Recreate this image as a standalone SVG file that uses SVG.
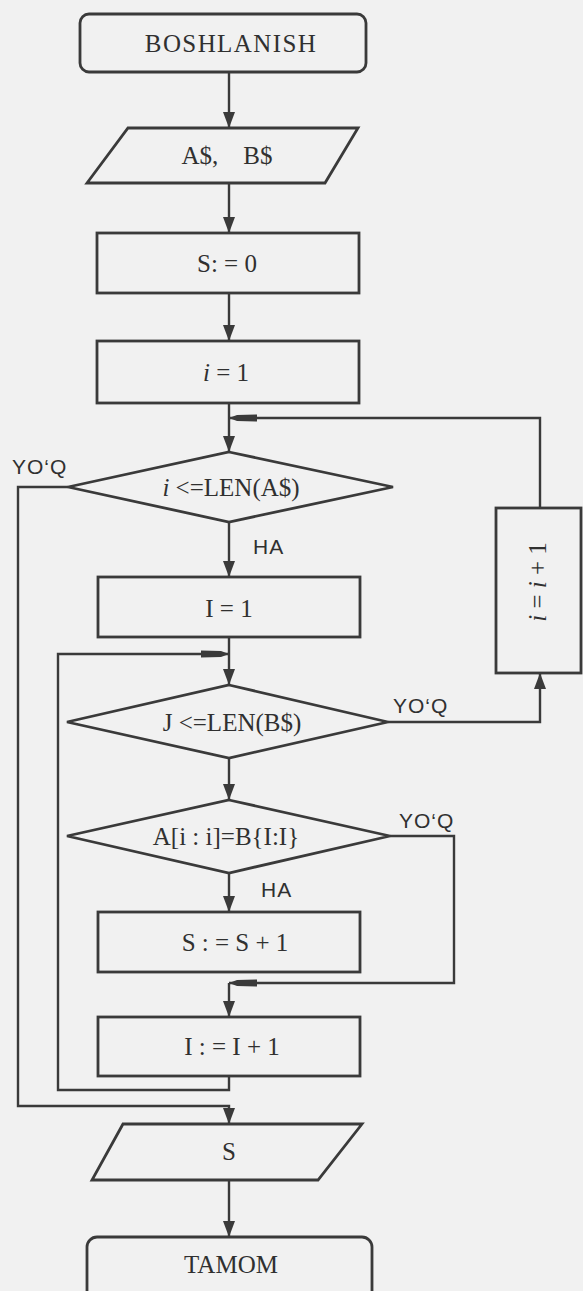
<svg xmlns="http://www.w3.org/2000/svg" width="583" height="1291" viewBox="0 0 583 1291">
<style>
.bg{fill:#f1f1f1}
.sh{fill:none;stroke:#3a3a3a;stroke-width:2.8}
.ln{fill:none;stroke:#3a3a3a;stroke-width:2.4}
.t{font-family:"Liberation Serif","Times New Roman",serif;font-size:25px;fill:#303030;text-anchor:middle}
.lbl{font-family:"Liberation Sans",Arial,sans-serif;font-size:21px;fill:#303030;letter-spacing:1px}
.it{font-style:italic}
</style>
<defs>
<marker id="arr" markerUnits="userSpaceOnUse" markerWidth="16" markerHeight="12" refX="16" refY="6" orient="auto">
<path d="M0,0 L16,6 L0,12 Z" fill="#3a3a3a"/>
</marker>
<marker id="jn" markerUnits="userSpaceOnUse" markerWidth="28" markerHeight="8" refX="28" refY="4" orient="auto">
<path d="M0,0.5 L20,1 L28,4 L20,7 L0,7.5 Z" fill="#3a3a3a"/>
</marker>
</defs>
<rect class="bg" x="0" y="0" width="583" height="1291"/>

<g id="connectors">
<line class="ln" x1="229" y1="72" x2="229" y2="128" marker-end="url(#arr)"/>
<line class="ln" x1="229" y1="183" x2="229" y2="233" marker-end="url(#arr)"/>
<line class="ln" x1="229" y1="293" x2="229" y2="341" marker-end="url(#arr)"/>
<line class="ln" x1="229" y1="403" x2="229" y2="452" marker-end="url(#arr)"/>
<polyline class="ln" points="540,508 540,418 229,418" marker-end="url(#jn)"/>
<line class="ln" x1="229" y1="522" x2="229" y2="577" marker-end="url(#arr)"/>
<polyline class="ln" points="68,487 18,487 18,1106 229,1106 229,1124" marker-end="url(#arr)"/>
<line class="ln" x1="229" y1="637" x2="229" y2="685" marker-end="url(#arr)"/>
<polyline class="ln" points="229,1076 229,1090 58,1090 58,654 229,654" marker-end="url(#jn)"/>
<line class="ln" x1="229" y1="758" x2="229" y2="800" marker-end="url(#arr)"/>
<polyline class="ln" points="388,722 540,722 540,673" marker-end="url(#arr)"/>
<line class="ln" x1="229" y1="873" x2="229" y2="912" marker-end="url(#arr)"/>
<polyline class="ln" points="390,836 454,836 454,983 229,983" marker-end="url(#jn)"/>
<line class="ln" x1="229" y1="983" x2="229" y2="1017" marker-end="url(#arr)"/>
<line class="ln" x1="229" y1="1180" x2="229" y2="1237" marker-end="url(#arr)"/>
<text class="lbl" x="12" y="474">YO‘Q</text>
<text class="lbl" x="253" y="554">HA</text>
<text class="lbl" x="393" y="713">YO‘Q</text>
<text class="lbl" x="399" y="828">YO‘Q</text>
<text class="lbl" x="261" y="897">HA</text>
</g>

<g id="start">
<rect class="sh" x="80" y="14" width="286" height="58" rx="9"/>
<text class="t" x="231" y="52" letter-spacing="1.4">BOSHLANISH</text>
</g>
<g id="input">
<polygon class="sh" points="128,128 358,128 325,183 87,183"/>
<text class="t" x="227" y="164" xml:space="preserve">A$,    B$</text>
</g>
<g id="s0">
<rect class="sh" x="97" y="233" width="262" height="60"/>
<text class="t" x="227" y="272">S: = 0</text>
</g>
<g id="i1">
<rect class="sh" x="97" y="341" width="262" height="62"/>
<text class="t" x="226" y="381"><tspan class="it">i</tspan> = 1</text>
</g>
<g id="cond1">
<polygon class="sh" points="229,452 393,487 229,522 68,487"/>
<text class="t" x="231" y="496"><tspan class="it">i</tspan> &lt;=LEN(A$)</text>
</g>
<g id="j1">
<rect class="sh" x="98" y="577" width="262" height="60"/>
<text class="t" x="229" y="617">I = 1</text>
</g>
<g id="cond2">
<polygon class="sh" points="229,685 388,722 229,758 67,722"/>
<text class="t" x="232" y="731">J &lt;=LEN(B$)</text>
</g>
<g id="cond3">
<polygon class="sh" points="229,800 390,836 229,873 67,836"/>
<text class="t" x="226" y="845">A[i : i]=B{I:I}</text>
</g>
<g id="sinc">
<rect class="sh" x="98" y="912" width="262" height="60"/>
<text class="t" x="235" y="951">S : = S + 1</text>
</g>
<g id="jinc">
<rect class="sh" x="98" y="1017" width="262" height="59"/>
<text class="t" x="232" y="1055">I : = I + 1</text>
</g>
<g id="iinc">
<rect class="sh" x="496" y="508" width="85" height="165"/>
<text class="t" transform="translate(538,582) rotate(-90)" x="0" y="8"><tspan class="it">i</tspan> = <tspan class="it">i</tspan> + 1</text>
</g>
<g id="output">
<polygon class="sh" points="123,1124 362,1124 318,1180 92,1180"/>
<text class="t" x="229" y="1160">S</text>
</g>
<g id="end">
<rect class="sh" x="87" y="1237" width="285" height="80" rx="10"/>
<text class="t" x="231" y="1273">TAMOM</text>
</g>
</svg>
